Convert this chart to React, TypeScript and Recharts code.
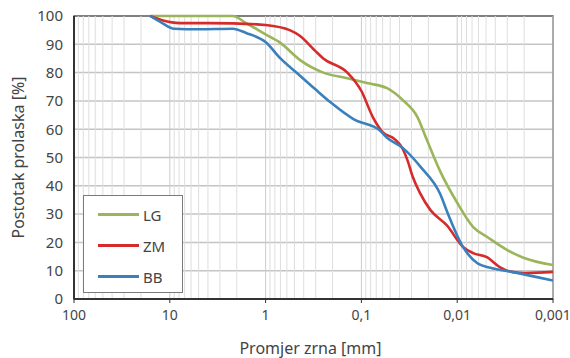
import {
  LineChart,
  Line,
  XAxis,
  YAxis,
  CartesianGrid,
  ReferenceLine,
  ReferenceArea,
} from "recharts";

// grain size [mm] -> passing [%]
const lgSize = [16, 5, 2.2, 1.6, 1, 0.7, 0.44, 0.25, 0.14, 0.0875, 0.054, 0.037, 0.026, 0.0206, 0.015, 0.01, 0.0068, 0.0049, 0.003, 0.002, 0.001];
const lgPass = [100, 100, 100, 97.5, 93.5, 90.5, 84.5, 80, 78, 76.3, 74.5, 70.3, 64.3, 56, 45, 34, 25.4, 22, 17.3, 14.5, 12];

const zmSize = [16, 12, 7.8, 4, 2.2, 1, 0.56, 0.44, 0.3, 0.25, 0.14, 0.1, 0.076, 0.06, 0.045, 0.037, 0.033, 0.029, 0.0245, 0.019, 0.0128, 0.0087, 0.0068, 0.0049, 0.0036, 0.0026, 0.0019, 0.001];
const zmPass = [100, 98.5, 97.5, 97.5, 97.4, 96.8, 95, 93, 87.5, 85, 80, 73.5, 64.3, 59, 56.5, 53, 49, 43, 37.5, 31.4, 26, 18.4, 16.2, 14.8, 11.3, 9.5, 9.2, 9.6];

const bbSize = [16, 12, 9, 5, 2.2, 1.6, 1, 0.7, 0.44, 0.3, 0.21, 0.12, 0.064, 0.054, 0.037, 0.024, 0.015, 0.0128, 0.0087, 0.0062, 0.0045, 0.0026, 0.001];
const bbPass = [100, 97.5, 95.5, 95.3, 95.5, 94, 90.8, 85, 79, 74, 69.5, 63.5, 59.5, 57, 53.4, 46.6, 37, 31, 18.4, 12.7, 11, 9.5, 6.5];

const xTicks = [100, 10, 1, 0.1, 0.01, 0.001];
const yTicks = [0, 10, 20, 30, 40, 50, 60, 70, 80, 90, 100];

const series = [
  { name: "LG", color: "#9bb55a", size: lgSize, pass: lgPass },
  { name: "ZM", color: "#d62b2b", size: zmSize, pass: zmPass },
  { name: "BB", color: "#3a80bd", size: bbSize, pass: bbPass },
];

const toRows = (size: number[], pass: number[]) =>
  size.map((d, i) => ({ d, p: pass[i] }));

// minor log grid positions (2..9 in each decade)
const minorLines: number[] = [];
[0.001, 0.01, 0.1, 1, 10].forEach((dec) => {
  for (let m = 2; m <= 9; m++) minorLines.push(+(dec * m).toPrecision(3));
});

const fmt = (v: number) => String(v).replace(".", ",");

const FONT = "'Noto Sans', sans-serif";

const LegendBox = () => (
  <div
    style={{
      position: "absolute",
      left: 83,
      top: 195,
      width: 100,
      height: 98,
      border: "1.5px solid #7a7a7a",
      background: "#fff",
      boxSizing: "border-box",
      padding: "3px 0 0 14px",
      fontFamily: FONT,
      fontSize: 15,
      color: "#444",
    }}
  >
    {series.map((s) => (
      <div
        key={s.name}
        style={{ display: "flex", alignItems: "center", height: 31 }}
      >
        <span
          style={{
            display: "inline-block",
            width: 41,
            height: 3,
            background: s.color,
            marginRight: 4,
          }}
        />
        {s.name}
      </div>
    ))}
  </div>
);

export default function App() {
  return (
    <div style={{ position: "absolute", left: 0, top: 0, width: 570, height: 358, background: "#fff" }}>
      <LineChart
        width={570}
        height={358}
        margin={{ top: 16, right: 17, bottom: 0, left: 0 }}
      >
        <CartesianGrid vertical={false} stroke="#c4c4c4" strokeWidth={1.5} />
        {minorLines.map((v) => (
          <ReferenceLine key={v} x={v} stroke="#dedede" strokeWidth={1} />
        ))}
        {xTicks.map((v) => (
          <ReferenceLine key={"d" + v} x={v} stroke="#cccccc" strokeWidth={1} />
        ))}
        <XAxis
          dataKey="d"
          type="number"
          scale="log"
          domain={[0.001, 100]}
          reversed
          allowDataOverflow
          ticks={xTicks}
          interval={0}
          tickFormatter={fmt}
          tick={{ fontSize: 14, fill: "#444", fontFamily: FONT }}
          tickSize={4}
          tickMargin={7}
          axisLine={{ stroke: "#333", strokeWidth: 2 }}
          tickLine={{ stroke: "#333" }}
          height={59}
          label={{
            content: ({ viewBox }: any) => (
              <text
                x={viewBox.x + viewBox.width / 2 - 3}
                y={348}
                textAnchor="middle"
                dominantBaseline="central"
                fontSize={16}
                fontFamily={FONT}
                fill="#444"
              >
                Promjer zrna [mm]
              </text>
            ),
          }}
        />
        <YAxis
          type="number"
          domain={[0, 100]}
          ticks={yTicks}
          interval={0}
          width={74}
          tick={{ fontSize: 15, fill: "#444", fontFamily: FONT }}
          tickSize={0}
          tickMargin={11}
          axisLine={{ stroke: "#333", strokeWidth: 2 }}
          tickLine={false}
          label={{
            content: ({ viewBox }: any) => (
              <text
                x={18}
                y={viewBox.y + viewBox.height / 2}
                textAnchor="middle"
                dominantBaseline="central"
                fontSize={16}
                fontFamily={FONT}
                fill="#444"
                transform={`rotate(-90 18 ${viewBox.y + viewBox.height / 2})`}
              >
                Postotak prolaska [%]
              </text>
            ),
          }}
        />
        <ReferenceArea
          x1={0.001}
          x2={100}
          y1={0}
          y2={100}
          fill="none"
          stroke="#666"
          strokeWidth={1.5}
          ifOverflow="visible"
        />
        {series.map((s) => (
          <Line
            key={s.name}
            name={s.name}
            data={toRows(s.size, s.pass)}
            dataKey="p"
            type="monotone"
            stroke={s.color}
            strokeWidth={2.6}
            dot={false}
            activeDot={false}
            isAnimationActive={false}
          />
        ))}
      </LineChart>
      <LegendBox />
    </div>
  );
}
